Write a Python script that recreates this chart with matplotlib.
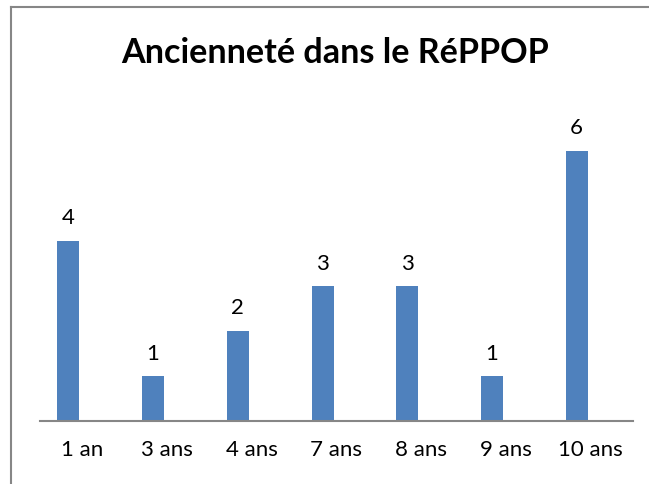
import matplotlib.pyplot as plt
from matplotlib.lines import Line2D
import numpy as np

# data
categories = ["1 an", "3 ans", "4 ans", "7 ans", "8 ans", "9 ans", "10 ans"]
counts = [4, 1, 2, 3, 3, 1, 6]

plt.rcParams['font.family'] = ['Lato', 'DejaVu Sans']

W, H = 649, 484
fig = plt.figure(figsize=(W / 100, H / 100), dpi=100)
fig.patch.set_facecolor('white')

# plot area in pixels
left, right, base, top = 40, 633, 421, 106
ax = fig.add_axes([left / W, (H - base) / H, (right - left) / W, (base - top) / H])

x_pos = np.arange(len(categories))
# bars sit a bit left of the category centre (like an empty second series in excel)
bars = ax.bar(x_pos - 0.165, counts, width=0.26, color='#4F81BD')

for b, v in zip(bars, counts):
    ax.annotate(str(v), (b.get_x() + b.get_width() / 2, v), xytext=(0, 9),
                textcoords='offset points', ha='center', va='bottom', fontsize=16)

ax.set_xlim(-0.5, len(categories) - 0.5)
ax.set_ylim(0, 7)
ax.set_xticks(x_pos)
ax.set_xticklabels(categories, fontsize=16)
ax.tick_params(axis='x', length=0, pad=14)
ax.set_yticks([])
for s in ['top', 'right', 'left']:
    ax.spines[s].set_visible(False)
ax.spines['bottom'].set_color('#868686')
ax.spines['bottom'].set_linewidth(1.5)

fig.text(335 / W, 1 - 63 / H, "Ancienneté dans le RéPPOP", ha='center', va='baseline',
         fontsize=24.6, fontweight='bold')

# chart border (only left and top edges are visible in the crop)
fig.add_artist(Line2D([11 / W, 11 / W], [0, 1 - 7 / H], color='#868686', lw=1.5))
fig.add_artist(Line2D([11 / W, 1], [1 - 7 / H, 1 - 7 / H], color='#868686', lw=1.5))

fig.savefig('out.png', dpi=100)
